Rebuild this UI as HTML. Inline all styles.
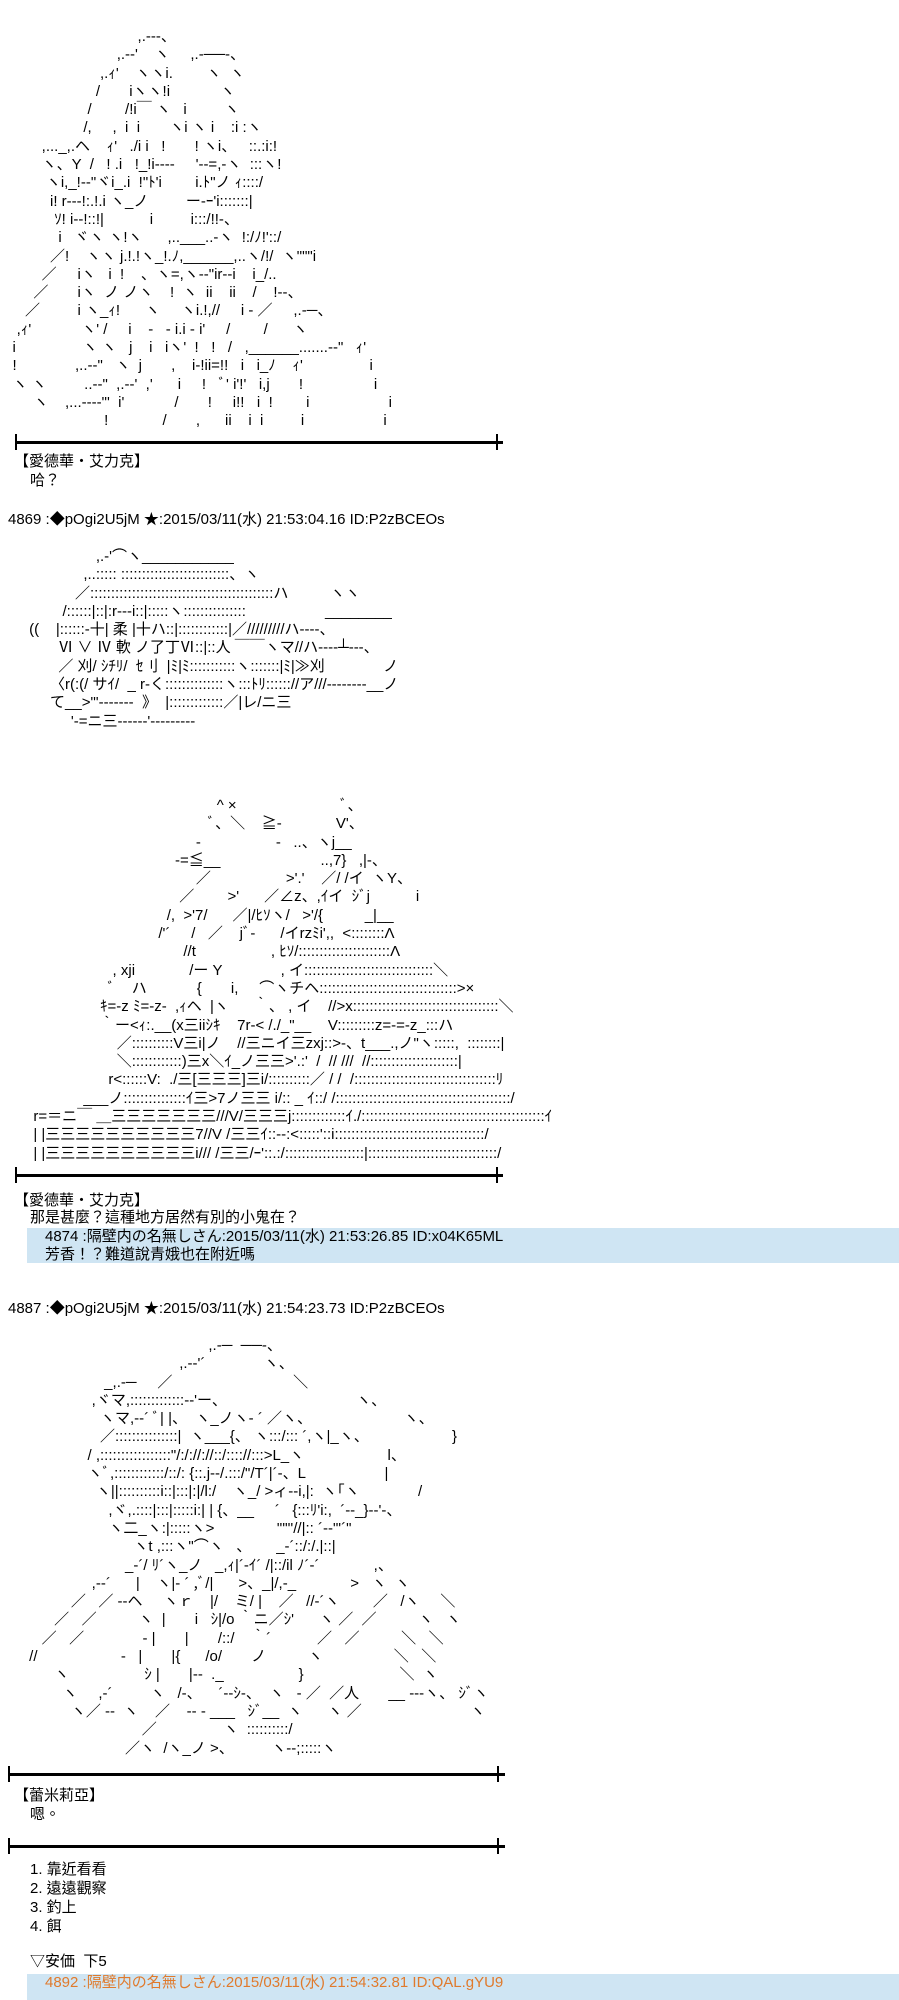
<!DOCTYPE html>
<html><head><meta charset="utf-8"><style>
html,body{margin:0;padding:0;background:#fff;width:899px;height:2000px;overflow:hidden;position:relative}
.aa{position:absolute;margin:0;font-family:"Liberation Sans","Noto Sans CJK JP",sans-serif;font-size:15px;line-height:18.3px;white-space:pre;color:#000;letter-spacing:0}
.t{position:absolute;font-family:"Liberation Sans","Noto Sans CJK TC",sans-serif;font-size:15px;line-height:19px;white-space:pre;color:#000}
.hr{position:absolute;height:3px;background:#000}
.tick{position:absolute;width:2px;height:16px;background:#000}
.box{position:absolute;background:#cfe5f3}
</style></head><body>

<pre class="aa" style="left:0;top:28px">                                 ,.---、
                            ,.-‐'    ヽ     ,.-──-、
                        ,.ｨ'    ヽヽi.        ヽ  ヽ
                       /       iヽヽ!i            ヽ
                     /        /!i￣ ヽ   i         ヽ
                    /,     ,  i  i       ヽi ヽ i    :i :ヽ
          ,..._,.ヘ    ｨ'   ./i i   !       ! ヽi、   ::.:i:!
          ヽ、Y  /   ! .i   !_!i‐---     '--=,-ヽ  :::ヽ!
           ヽi,_!-‐"ヾi_.i  !"ﾄ'i        i.ﾄ"ノ ｨ::::/
            i! r‐‐‐!:.!.i ヽ_ノ         ー-ｰ'i:::::::|
             ｿ! i-‐!::!|           i         i:::/!!‐、
              i   ヾヽ ヽ!ヽ      ,..___..-ヽ  !:/ﾉ!'::/
            ／!    ヽヽ j.!.!ヽ_!.ﾉ,______,..ヽ/!/  ヽ"""i
          ／     iヽ   i  !    、ヽ=,ヽ--"ir--i    i_/..
        ／       iヽ  ノ ノヽ    !  ヽ  ii    ii    /    !--、
      ／         i ヽ_ｨ!      ヽ     ヽi.!,//     i ‐ ／     ,.-─、
    ,ｨ'            ヽ' /     i    ‐   ‐ i.i ‐ i'     /        /      ヽ
   i                ヽ ヽ   j    i   iヽ'  !   !   /   ,______.......-‐"   ｨ'
   !              ,..-‐"   ヽ  j       ,    i‐!ii=!!   i   i_ﾉ    ｨ'                i
   ヽ ヽ         ..-‐"  ,.-‐'  ,'      i     !   ﾞ' i'!'   i,j       !                 i
        ヽ    ,...-‐-‐"'  i'            /       !     i!!   i  !        i                   i
                         !             /       ,      ii    i  i         i                   i</pre>

<div class="hr" style="left:15px;top:441px;width:488px"></div>
<div class="tick" style="left:15px;top:434px"></div>
<div class="tick" style="left:496px;top:434px"></div>
<div class="t" style="left:14px;top:452px">【愛德華‧艾力克】</div>
<div class="t" style="left:30px;top:471px">哈？</div>
<div class="t" style="left:8px;top:510px">4869 :◆pOgi2U5jM ★:2015/03/11(水) 21:53:04.16 ID:P2zBCEOs</div>

<pre class="aa" style="left:0;top:548px">                       ,.‐'⌒ヽ___________
                    ,..::::: ::::::::::::::::::::::::::、ヽ
                  ／::::::::::::::::::::::::::::::::::::::::::::ハ          ヽヽ
               /::::::|::|:r‐‐‐i::|:::::ヽ:::::::::::::::                   ________
       ((    |::::::‐十| 柔 |十ハ::|::::::::::::|／/////////ハ‐‐‐-、
              Ⅵ ∨ Ⅳ 軟 ノ了丁Ⅵ::|::人 ￣￣ヽマ//ハ‐‐‐‐┴‐‐‐、
              ／ 刈/ ｼﾁﾘ/  ｾ刂  |ﾐ|ﾐ:::::::::::ヽ:::::::|ﾐ|≫刈              ノ
            〈r(:(/ サｲ/  _ r‐く::::::::::::::ヽ:::ﾄﾘ:::::://ア///‐‐‐‐‐‐‐‐__ノ
            て__>"'‐‐‐‐‐‐‐  》  |:::::::::::::／|レ/ニ三
                 '‐=ニ三‐‐‐‐‐‐'‐‐‐‐‐‐‐‐‐</pre>

<pre class="aa" style="left:0;top:797px">                                                    ^ ×                         ﾞ、
                                                  ﾞ、＼    ≧-             V'、
                                               -                  -   ..、ヽj__
                                          -=≦__                        ..,7}   ,|-、
                                               ／                  >'.'    ／/ /イ  ヽY、
                                           ／        >'      ／∠z、,ｲイ  ｼﾞj           i
                                        /,  >'7/      ／|/ﾋｿヽ/   >'/{          _|__
                                      /'´     /   ／    jﾞ‐      /イrzﾐi',,  <::::::::Λ
                                            //t                  , ﾋｿ/::::::::::::::::::::::Λ
                           , xji             /ー Y              , イ:::::::::::::::::::::::::::::::＼
                          ﾞ    ハ            {       i,     ⌒ヽチヘ:::::::::::::::::::::::::::::::::>×
                        ｷ=-z ﾐ=-z-  ,ｨヘ  |ヽ      ｀、 , イ    //>x:::::::::::::::::::::::::::::::::::＼
                        ｀ー<ｨ:.__(x三iiｼｷ    7r-< /./_"__    V:::::::::z=-=-z_:::ハ
                            ／::::::::::V三i|ノ    //三ニイ三zxj::>-、t___.,ノ"ヽ:::::,  ::::::::|
                            ＼::::::::::::)三x＼ｲ_ノ三三>'.:'  /  // ///  //:::::::::::::::::::::|
                          r<::::::V:  ./三[三三三]三i/::::::::::／ / /  /::::::::::::::::::::::::::::::::::ﾘ
                    ___ノ:::::::::::::::ｲ三>7ノ三三 i/:: _ ｲ::/ /::::::::::::::::::::::::::::::::::::::::::/
        r=＝ニ￣ ＿三三三三三三三///V/三三三j:::::::::::::ｲ./::::::::::::::::::::::::::::::::::::::::::::ｲ
        | |三三三三三三三三三三7//V /三三ｲ::‐‐:<:::::'::i::::::::::::::::::::::::::::::::::::/
        | |三三三三三三三三三三i/// /三三/ｰ'::.:/:::::::::::::::::::|:::::::::::::::::::::::::::::::/</pre>

<div class="hr" style="left:15px;top:1174px;width:488px"></div>
<div class="tick" style="left:15px;top:1167px"></div>
<div class="tick" style="left:496px;top:1167px"></div>
<div class="t" style="left:14px;top:1191px">【愛德華‧艾力克】</div>
<div class="t" style="left:30px;top:1208px">那是甚麼？這種地方居然有別的小鬼在？</div>
<div class="box" style="left:27px;top:1228px;width:872px;height:35px"></div>
<div class="t" style="left:45px;top:1227px">4874 :隔壁内の名無しさん:2015/03/11(水) 21:53:26.85 ID:x04K65ML</div>
<div class="t" style="left:45px;top:1245px">芳香！？難道說青娥也在附近嗎</div>
<div class="t" style="left:8px;top:1299px">4887 :◆pOgi2U5jM ★:2015/03/11(水) 21:54:23.73 ID:P2zBCEOs</div>

<pre class="aa" style="left:0;top:1337px">                                                  ,.-─  ──-、
                                           ,.-‐'´              ヽ、
                         _,.-─     ／                             ＼
                      ,ヾマ,:::::::::::::-‐'ー、                               ヽ、
                        ヽマ,‐‐´ ﾞ| |、  ヽ_ノヽ‐ ´ ／ヽ、                      ヽ、
                        ／:::::::::::::::|  ヽ___{、 ヽ:::/::: ´,ヽ|_ヽ、                    }
                     / ,:::::::::::::::::"/:/://://::/:::://:::>L_ヽ                    l、
                     ヽﾞ,::::::::::::/::/: {::.j‐‐/.:::/"/T´|´-、L                   |
                       ヽ||::::::::::i::|:::|:|/l:/    ヽ_/ >ィ‐‐i,|:  ヽ｢ヽ              /
                          ,ヾ,.::::|:::|:::::i:| | {、__     ´   {:::ﾘ'i:,  ´‐‐_}‐‐'‐、
                          ヽ二_ヽ:|:::::ヽ>               "'"'//|:: ´‐‐"'´"
                                ヽt ,:::ヽ"⌒ヽ   、      _-´::/:/.|::|
                              _-´/ ﾘ´ヽ_ノ   _,ｨ|´‐ｲ´ /|::/il ﾉ´-´             ,、
                      ,‐-´      |    ヽ|‐ ´ ,ﾞ/|      >、_|/,‐_             >   ヽ  ヽ
                 ／   ／ ‐‐ヘ     ヽｒ    |/    ミ/ |    ／   //‐´ヽ        ／   /ヽ     ＼
             ／   ／          ヽ  |       i   ｼ|/o ｀ニ／ｼ'      ヽ ／  ／          ヽ   ヽ
          ／   ／              ‐ |       |       /::/    ｀´           ／   ／          ＼   ＼
       //                    -   |       |{      /o/       ノ          ヽ                 ＼   ＼
             ヽ                  ｼ |       |‐‐  ._                  }                       ＼  ヽ
               ヽ     ,‐´         ヽ   /‐、    ´‐‐ｼ‐、  ヽ   ‐ ／  ／人       __ ‐‐‐ヽ、 ｼﾞヽ
                 ヽ／ ‐‐  ヽ    ／    ‐‐ ‐ ___   ｼﾞ__  ヽ      ヽ ／                          ヽ
                                  ／                ヽ  ::::::::::/
                              ／ヽ  /ヽ_ノ >、         ヽ‐‐;:::::ヽ</pre>

<div class="hr" style="left:8px;top:1773px;width:497px"></div>
<div class="tick" style="left:8px;top:1766px"></div>
<div class="tick" style="left:497px;top:1766px"></div>
<div class="t" style="left:14px;top:1786px">【蕾米莉亞】</div>
<div class="t" style="left:30px;top:1805px">嗯。</div>
<div class="hr" style="left:8px;top:1845px;width:497px"></div>
<div class="tick" style="left:8px;top:1838px"></div>
<div class="tick" style="left:497px;top:1838px"></div>
<div class="t" style="left:30px;top:1860px">1. 靠近看看
2. 遠遠觀察
3. 釣上
4. 餌</div>
<div class="t" style="left:30px;top:1952px">▽安価  下5</div>
<div class="box" style="left:27px;top:1974px;width:872px;height:26px"></div>
<div class="t" style="left:45px;top:1973px;color:#e07a2c">4892 :隔壁内の名無しさん:2015/03/11(水) 21:54:32.81 ID:QAL.gYU9</div>
</body></html>
